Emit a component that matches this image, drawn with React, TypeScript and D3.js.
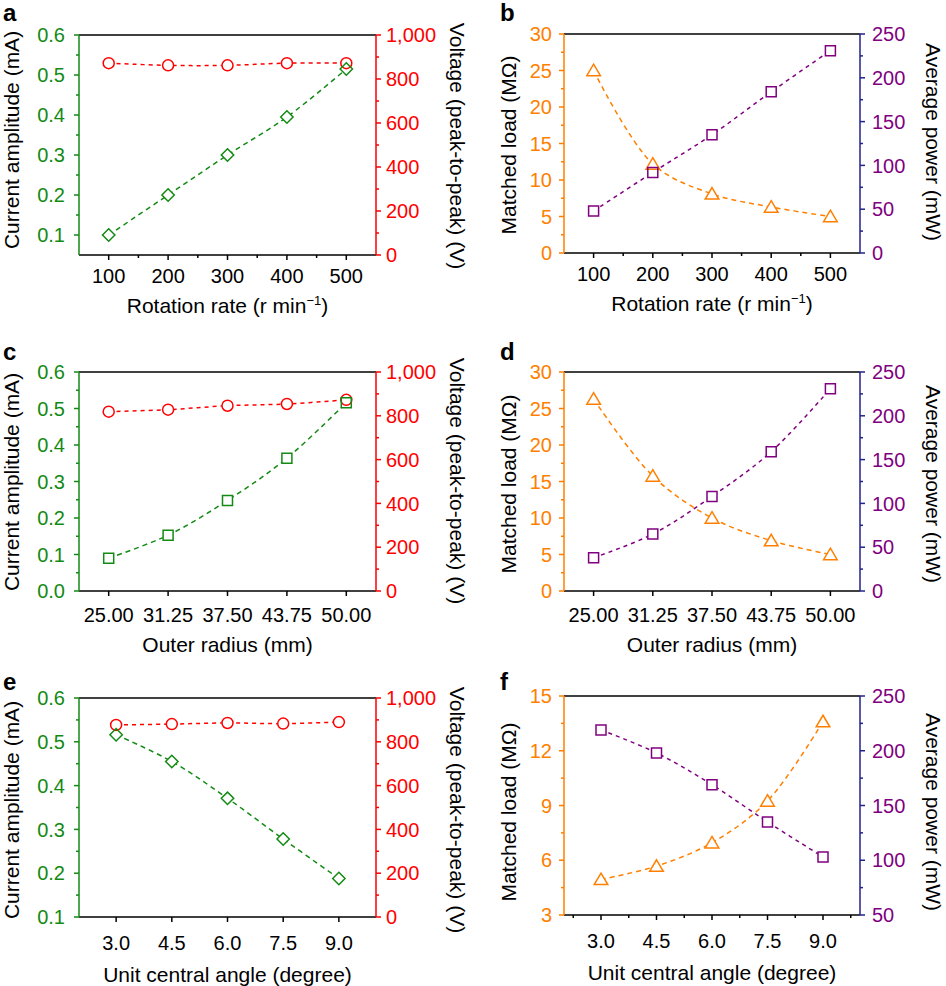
import React from 'react';
import * as d3 from 'd3';

// ---------- data ----------
const rotationRate = [100, 200, 300, 400, 500];
const outerRadius = [25, 31.25, 37.5, 43.75, 50];
const centralAngle = [3, 4.5, 6, 7.5, 9];

const currentA = [0.1, 0.2, 0.3, 0.395, 0.515];
const voltageA = [872, 862, 862, 872, 872];
const loadB = [25, 12.2, 8.1, 6.3, 5.0];
const powerB = [48, 92, 135, 184, 231];

const currentC = [0.09, 0.153, 0.248, 0.364, 0.516];
const voltageC = [819, 828, 846, 854, 873];
const loadD = [26.3, 15.75, 10.0, 6.9, 5.0];
const powerD = [38, 65, 108, 159, 231];

const currentE = [0.516, 0.455, 0.371, 0.278, 0.188];
const voltageE = [877, 881, 886, 883, 890];
const loadF = [4.95, 5.68, 6.96, 9.25, 13.6];
const powerF = [219, 198, 169, 135, 103];

const rotationTicks = [100, 200, 300, 400, 500];
const rotationMinor = [150, 250, 350, 450];
const radiusTicks = [25, 31.25, 37.5, 43.75, 50];
const angleTicks = [3, 4.5, 6, 7.5, 9];
const angleMinor = [2.25, 3.75, 5.25, 6.75, 8.25, 9.75];

const currentTicksA = [0.1, 0.2, 0.3, 0.4, 0.5, 0.6];
const currentTicksC = [0, 0.1, 0.2, 0.3, 0.4, 0.5, 0.6];
const voltageTicks = [0, 200, 400, 600, 800, 1000];
const loadTicks = [0, 5, 10, 15, 20, 25, 30];
const loadTicksF = [3, 6, 9, 12, 15];
const powerTicks = [0, 50, 100, 150, 200, 250];
const powerTicksF = [50, 100, 150, 200, 250];

// ---------- styling ----------
const GREEN = '#138a13';
const RED = '#ff0000';
const ORANGE = '#ff8000';
const PURPLE = '#800080';
const NAVY = '#22228c';
const FONT = '"Liberation Sans", Arial, Helvetica, sans-serif';

const range = (a: number, b: number, s: number) => {
  const out: number[] = [];
  for (let v = a; v <= b + 1e-9; v += s) out.push(+v.toFixed(6));
  return out;
};

type Axis = {
  domain: [number, number];
  ticks: number[];
  minor: number[];
  fmt: (v: number) => string;
  color: string;
  line: string;
  title: string;
};

type Series = {
  xs: number[];
  ys: number[];
  side: 'left' | 'right';
  color: string;
  marker: 'circle' | 'diamond' | 'square' | 'triangle';
  dash: string;
};

type PanelSpec = {
  letter: string;
  letterX: number;
  letterY: number;
  box: [number, number, number, number]; // x0, y0, x1, y1
  xDomain: [number, number];
  xTicks: number[];
  xMinor: number[];
  xFmt: (v: number) => string;
  xTitle: React.ReactNode;
  left: Axis;
  right: Axis;
  series: Series[];
  tickDy: number;
  titleDy: number;
  leftTitleDx: number;
  rightTitleDx: number;
  leftTitleY: number;
  rightTitleY: number;
  leftLabelGap: number;
  rightLabelGap: number;
};

const rotTitle = (
  <>
    Rotation rate (r min
    <tspan dy={-8} fontSize={13}>−1</tspan>
    <tspan dy={8}>)</tspan>
  </>
);

const f1 = (v: number) => v.toFixed(1);
const f2 = (v: number) => v.toFixed(2);
const f0 = (v: number) => d3.format(',')(v);

const currentAxis = (domain: [number, number], ticks: number[], minor: number[]): Axis => ({
  domain, ticks, minor, fmt: f1, color: GREEN, line: GREEN, title: 'Current amplitude (mA)',
});
const voltageAxis: Axis = {
  domain: [0, 1000], ticks: voltageTicks, minor: range(100, 900, 200), fmt: f0, color: RED, line: RED,
  title: 'Voltage (peak-to-peak) (V)',
};
const loadAxis = (domain: [number, number], ticks: number[], minor: number[]): Axis => ({
  domain, ticks, minor, fmt: f0, color: ORANGE, line: ORANGE, title: 'Matched load (MΩ)',
});
const powerAxis = (domain: [number, number], ticks: number[], minor: number[]): Axis => ({
  domain, ticks, minor, fmt: f0, color: PURPLE, line: NAVY, title: 'Average power (mW)',
});

const panels: PanelSpec[] = [
  {
    letter: 'a', letterX: 3, letterY: 21, box: [79, 35, 376, 255], xDomain: [50, 550], xTicks: rotationTicks,
    xMinor: rotationMinor, xFmt: f0, xTitle: rotTitle,
    left: currentAxis([0.05, 0.6], currentTicksA, range(0.15, 0.55, 0.1)),
    right: voltageAxis,
    series: [
      { xs: rotationRate, ys: voltageA, side: 'right', color: RED, marker: 'circle', dash: '4,4' },
      { xs: rotationRate, ys: currentA, side: 'left', color: GREEN, marker: 'diamond', dash: '5,4' },
    ],
    tickDy: 28, titleDy: 58, leftTitleDx: -60.5, rightTitleDx: 74, leftTitleY: 140, rightTitleY: 146,
    leftLabelGap: 14, rightLabelGap: 10,
  },
  {
    letter: 'b', letterX: 500, letterY: 21, box: [564, 34, 860, 253], xDomain: [50, 550], xTicks: rotationTicks,
    xMinor: rotationMinor, xFmt: f0, xTitle: rotTitle,
    left: loadAxis([0, 30], loadTicks, range(2.5, 27.5, 5)),
    right: powerAxis([0, 250], powerTicks, range(25, 225, 50)),
    series: [
      { xs: rotationRate, ys: loadB, side: 'left', color: ORANGE, marker: 'triangle', dash: '5,4' },
      { xs: rotationRate, ys: powerB, side: 'right', color: PURPLE, marker: 'square', dash: '4,4' },
    ],
    tickDy: 28, titleDy: 58, leftTitleDx: -48, rightTitleDx: 66, leftTitleY: 145, rightTitleY: 142,
    leftLabelGap: 12, rightLabelGap: 12,
  },
  {
    letter: 'c', letterX: 3, letterY: 360, box: [79, 372, 376, 591], xDomain: [21.875, 53.125], xTicks: radiusTicks,
    xMinor: [], xFmt: f2, xTitle: 'Outer radius (mm)',
    left: currentAxis([0, 0.6], currentTicksC, range(0.05, 0.55, 0.1)),
    right: voltageAxis,
    series: [
      { xs: outerRadius, ys: voltageC, side: 'right', color: RED, marker: 'circle', dash: '4,4' },
      { xs: outerRadius, ys: currentC, side: 'left', color: GREEN, marker: 'square', dash: '5,4' },
    ],
    tickDy: 31, titleDy: 61, leftTitleDx: -60.5, rightTitleDx: 74, leftTitleY: 482, rightTitleY: 481,
    leftLabelGap: 14, rightLabelGap: 10,
  },
  {
    letter: 'd', letterX: 500, letterY: 360, box: [564, 372, 860, 591], xDomain: [21.875, 53.125],
    xTicks: radiusTicks, xMinor: [], xFmt: f2, xTitle: 'Outer radius (mm)',
    left: loadAxis([0, 30], loadTicks, range(2.5, 27.5, 5)),
    right: powerAxis([0, 250], powerTicks, range(25, 225, 50)),
    series: [
      { xs: outerRadius, ys: loadD, side: 'left', color: ORANGE, marker: 'triangle', dash: '5,4' },
      { xs: outerRadius, ys: powerD, side: 'right', color: PURPLE, marker: 'square', dash: '4,4' },
    ],
    tickDy: 31, titleDy: 61, leftTitleDx: -48, rightTitleDx: 66, leftTitleY: 484, rightTitleY: 484,
    leftLabelGap: 12, rightLabelGap: 12,
  },
  {
    letter: 'e', letterX: 3, letterY: 690, box: [79, 698, 376, 917], xDomain: [2, 10], xTicks: angleTicks,
    xMinor: [], xFmt: f1, xTitle: 'Unit central angle (degree)',
    left: currentAxis([0.1, 0.6], currentTicksA, range(0.15, 0.55, 0.1)),
    right: voltageAxis,
    series: [
      { xs: centralAngle, ys: voltageE, side: 'right', color: RED, marker: 'circle', dash: '4,4' },
      { xs: centralAngle, ys: currentE, side: 'left', color: GREEN, marker: 'diamond', dash: '5,4' },
    ],
    tickDy: 33, titleDy: 65, leftTitleDx: -60.5, rightTitleDx: 74, leftTitleY: 810, rightTitleY: 810,
    leftLabelGap: 14, rightLabelGap: 10,
  },
  {
    letter: 'f', letterX: 500, letterY: 690, box: [564, 696, 860, 915], xDomain: [2, 10], xTicks: angleTicks,
    xMinor: angleMinor, xFmt: f1, xTitle: 'Unit central angle (degree)',
    left: loadAxis([3, 15], loadTicksF, range(4.5, 13.5, 3)),
    right: powerAxis([50, 250], powerTicksF, range(75, 225, 50)),
    series: [
      { xs: centralAngle, ys: loadF, side: 'left', color: ORANGE, marker: 'triangle', dash: '5,4' },
      { xs: centralAngle, ys: powerF, side: 'right', color: PURPLE, marker: 'square', dash: '4,4' },
    ],
    tickDy: 33, titleDy: 65, leftTitleDx: -48, rightTitleDx: 66, leftTitleY: 812, rightTitleY: 812,
    leftLabelGap: 12, rightLabelGap: 12,
  },
];

const markerPath = (kind: Series['marker'], x: number, y: number, s = 1) => {
  if (kind === 'circle') {
    const r = 5.5 * s;
    return `M${x - r},${y}a${r},${r} 0 1,0 ${2 * r},0a${r},${r} 0 1,0 ${-2 * r},0Z`;
  }
  if (kind === 'square') {
    const h = 5 * s;
    return `M${x - h},${y - h}h${2 * h}v${2 * h}h${-2 * h}Z`;
  }
  if (kind === 'diamond') {
    const h = 6.2 * s;
    return `M${x},${y - h}L${x + h},${y}L${x},${y + h}L${x - h},${y}Z`;
  }
  return `M${x},${y - 6.3 * s}L${x + 6.8 * s},${y + 5.2 * s}L${x - 6.8 * s},${y + 5.2 * s}Z`;
};

const MAJOR = 5;
const MINOR = 3;

function Panel({ p }: { p: PanelSpec }) {
  const [x0, y0, x1, y1] = p.box;
  const xs = d3.scaleLinear().domain(p.xDomain).range([x0, x1]);
  const yl = d3.scaleLinear().domain(p.left.domain).range([y1, y0]);
  const yr = d3.scaleLinear().domain(p.right.domain).range([y1, y0]);
  const fs = 20;
  return (
    <g fontFamily={FONT}>
      <text x={p.letterX} y={p.letterY} fontSize={24} fontWeight="bold" fill="#000">{p.letter}</text>

      {/* series */}
      {p.series.map((s, i) => {
        const ys = s.side === 'left' ? yl : yr;
        const line = d3.line<number>()
          .x((_, j) => xs(s.xs[j]))
          .y((v) => ys(v))
          .curve(d3.curveCatmullRom.alpha(0.5));
        const mid = `mask-${p.letter}-${i}`;
        return (
          <g key={i}>
            <mask id={mid} maskUnits="userSpaceOnUse" x={0} y={0} width={946} height={986}>
              <rect x={0} y={0} width={946} height={986} fill="#fff" />
              {s.ys.map((v, j) => (
                <path key={j} d={markerPath(s.marker, xs(s.xs[j]), ys(v), 1.05)} fill="#000" />
              ))}
            </mask>
            <path d={line(s.ys) || ''} fill="none" stroke={s.color} strokeWidth={1.5}
              strokeDasharray={s.dash} mask={`url(#${mid})`} />
            {s.ys.map((v, j) => (
              <path key={j} d={markerPath(s.marker, xs(s.xs[j]), ys(v))} fill="none" stroke={s.color}
                strokeWidth={1.5} />
            ))}
          </g>
        );
      })}

      {/* frame */}
      <line x1={x0} x2={x1} y1={y0} y2={y0} stroke="#000" strokeWidth={1.5} />
      <line x1={x0} x2={x1} y1={y1} y2={y1} stroke="#000" strokeWidth={1.5} />
      <line x1={x0} x2={x0} y1={y0} y2={y1} stroke={p.left.line} strokeWidth={1.5} />
      <line x1={x1} x2={x1} y1={y0} y2={y1} stroke={p.right.line} strokeWidth={1.5} />

      {/* x axis */}
      {p.xTicks.map((t) => (
        <g key={'xt' + t}>
          <line x1={xs(t)} x2={xs(t)} y1={y1} y2={y1 + MAJOR} stroke="#000" strokeWidth={1.5} />
          <text x={xs(t)} y={y1 + p.tickDy} fontSize={fs} textAnchor="middle" fill="#000">{p.xFmt(t)}</text>
        </g>
      ))}
      {p.xMinor.map((t) => (
        <line key={'xm' + t} x1={xs(t)} x2={xs(t)} y1={y1} y2={y1 + MINOR} stroke="#000" strokeWidth={1.5} />
      ))}
      <text x={(x0 + x1) / 2} y={y1 + p.titleDy} fontSize={21} textAnchor="middle" fill="#000">{p.xTitle}</text>

      {/* left axis */}
      {p.left.ticks.map((t) => (
        <g key={'lt' + t}>
          <line x1={x0} x2={x0 - MAJOR} y1={yl(t)} y2={yl(t)} stroke={p.left.line} strokeWidth={1.5} />
          <text x={x0 - p.leftLabelGap} y={yl(t)} dy="0.36em" fontSize={fs} textAnchor="end" fill={p.left.color}>
            {p.left.fmt(t)}
          </text>
        </g>
      ))}
      {p.left.minor.map((t) => (
        <line key={'lm' + t} x1={x0} x2={x0 - MINOR} y1={yl(t)} y2={yl(t)} stroke={p.left.line} strokeWidth={1.5} />
      ))}
      <text transform={`translate(${x0 + p.leftTitleDx},${p.leftTitleY}) rotate(-90)`} fontSize={21}
        textAnchor="middle" fill="#000">{p.left.title}</text>

      {/* right axis */}
      {p.right.ticks.map((t) => (
        <g key={'rt' + t}>
          <line x1={x1} x2={x1 + MAJOR} y1={yr(t)} y2={yr(t)} stroke={p.right.line} strokeWidth={1.5} />
          <text x={x1 + p.rightLabelGap} y={yr(t)} dy="0.36em" fontSize={fs} textAnchor="start" fill={p.right.color}>
            {p.right.fmt(t)}
          </text>
        </g>
      ))}
      {p.right.minor.map((t) => (
        <line key={'rm' + t} x1={x1} x2={x1 + MINOR} y1={yr(t)} y2={yr(t)} stroke={p.right.line} strokeWidth={1.5} />
      ))}
      <text transform={`translate(${x1 + p.rightTitleDx},${p.rightTitleY}) rotate(90)`} fontSize={21}
        textAnchor="middle" fill="#000">{p.right.title}</text>
    </g>
  );
}

export default function App() {
  return (
    <svg width={946} height={986} viewBox="0 0 946 986"
      style={{ position: 'absolute', left: 0, top: 0, background: '#fff' }}>
      <rect width={946} height={986} fill="#fff" />
      {panels.map((p) => <Panel key={p.letter} p={p} />)}
    </svg>
  );
}
